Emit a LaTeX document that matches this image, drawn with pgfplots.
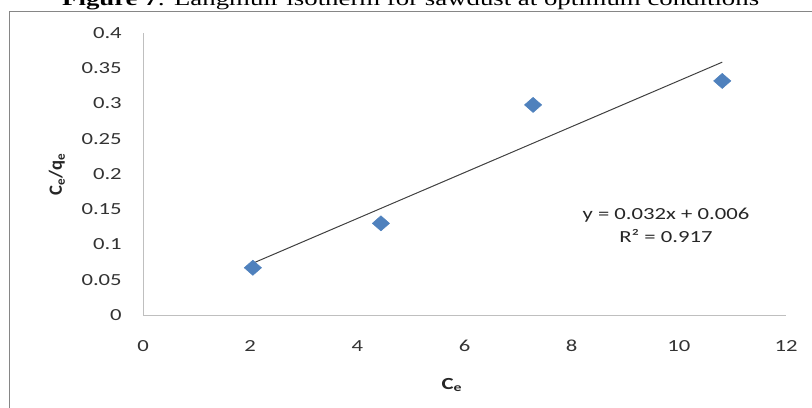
\documentclass[border=0pt]{standalone}
\usepackage{fontspec}
\setmainfont{Carlito}[FakeStretch=1.34]
\newfontfamily\titlefont{Liberation Serif}[FakeStretch=1.34]
\newfontfamily\ylabfont{Carlito}
\usepackage{pgfplots}
\usepackage{pgfplotstable}
\pgfplotsset{compat=1.18}
\definecolor{excelblue}{HTML}{4F81BD}
\definecolor{axisgray}{HTML}{BFBFBF}
\definecolor{framegray}{HTML}{868686}

% Ce (mg/L) against Ce/qe
\pgfplotstableread{
x y
2.05 0.067
4.44 0.130
7.28 0.298
10.81 0.332
}\isotherm

\begin{document}
\begin{tikzpicture}
\path[use as bounding box] (0,0) rectangle (609pt,305.25pt);
\clip (0,0) rectangle (609pt,305.25pt);
\draw[framegray, line width=1.1pt] (7pt,-20pt) rectangle (640pt,296.5pt);
\node[anchor=base, inner sep=0pt, font=\titlefont\fontsize{15}{18}\selectfont]
  at (308pt,300.75pt) {\textbf{Figure 7}: Langmuir isotherm for sawdust at optimum conditions};
\begin{axis}[
  at={(107.25pt,69pt)}, anchor=south west,
  scale only axis, width=482.25pt, height=211.5pt,
  xmin=0, xmax=12, ymin=0, ymax=0.4,
  xtick={0,2,4,6,8,10,12},
  ytick={0,0.05,0.1,0.15,0.2,0.25,0.3,0.35,0.4},
  yticklabels={0,0.05,0.1,0.15,0.2,0.25,0.3,0.35,0.4},
  axis lines=left, axis line style={axisgray, line width=0.75pt, -},
  major tick length=0pt,
  tick label style={font=\fontsize{12.7}{15}\selectfont, text=black!80},
  /pgf/number format/assume math mode=true,
  yticklabel style={anchor=east, inner sep=0pt, xshift=-15.75pt},
  xticklabel style={anchor=center, inner sep=0pt, yshift=-23.25pt},
  xlabel={\textbf{C\textsubscript{e}}},
  xlabel style={at={(rel axis cs:0.4806,-0.248)}, anchor=center, inner sep=0pt,
    font=\fontsize{12.7}{15}\selectfont, text=black!85},
  ylabel={\textbf{C\textsubscript{e}/q\textsubscript{e}}},
  ylabel style={at={(rel axis cs:-0.134,0.5)}, anchor=center, rotate=0, inner sep=0pt,
    font=\ylabfont\fontsize{14}{16}\selectfont, text=black!85},
  clip=false,
]
\addplot[black!75, line width=0.75pt, no markers]
  table[x=x, y={create col/linear regression={y=y}}] {\isotherm};
\addplot[only marks, mark=square*, mark size=4pt,
  mark options={fill=excelblue, draw=excelblue, xscale=1.14, rotate=45}]
  table[x=x, y=y] {\isotherm};
\node[align=center, inner sep=0pt, font=\fontsize{12.7}{17.25}\selectfont, text=black!85]
  at (axis cs:9.76,0.1277) {y = 0.032x + 0.006\\R² = 0.917};
\end{axis}
\end{tikzpicture}
\end{document}
